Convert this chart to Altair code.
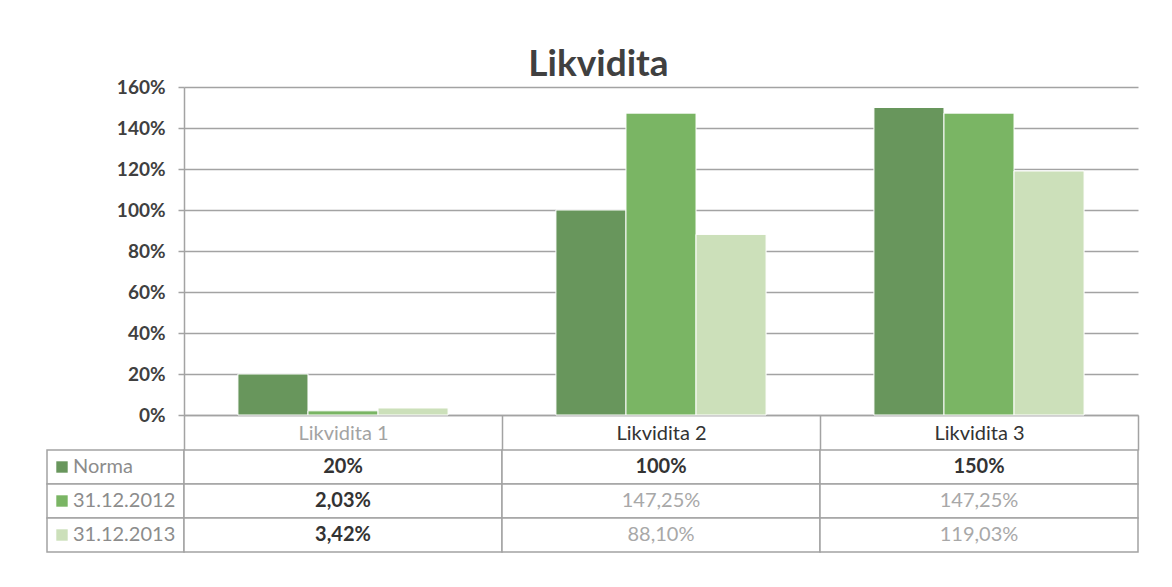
import altair as alt
import pandas as pd

# ---- data ----
categories = ["Likvidita 1", "Likvidita 2", "Likvidita 3"]
series = ["Norma", "31.12.2012", "31.12.2013"]
norma = [20, 100, 150]
v2012 = [2.03, 147.25, 147.25]
v2013 = [3.42, 88.10, 119.03]
y_ticks = [0, 20, 40, 60, 80, 100, 120, 140, 160]


def fmt(s, v):
    if s == "Norma":
        return f"{v:.0f}%"
    return f"{v:.2f}".replace(".", ",") + "%"


rows = []
for s, vals in zip(series, [norma, v2012, v2013]):
    for c, v in zip(categories, vals):
        rows.append({"category": c, "series": s, "value": v, "label": fmt(s, v)})
df = pd.DataFrame(rows)
legend_df = pd.DataFrame({"series": series})

# ---- style ----
FONT = "Lato"
GRID = "#a3a3a3"
colors = ["#68965c", "#7ab564", "#cce0ba"]
W_PLOT = 954
H_PLOT = 328
W_LEG = 137
ROW_H = 34

color_scale = alt.Scale(domain=series, range=colors)

bars = alt.Chart(df).mark_bar(stroke="white", strokeWidth=1).encode(
    x=alt.X(
        "category:N",
        sort=categories,
        scale=alt.Scale(paddingInner=0, paddingOuter=0),
        axis=alt.Axis(
            title=None,
            orient="bottom",
            labelAngle=0,
            tickBand="extent",
            tickSize=35,
            tickColor=GRID,
            tickWidth=1.5,
            domainColor=GRID,
            domainWidth=1.5,
            labelBaseline="middle",
            labelPadding=-17,
            labelFont=FONT,
            labelFontSize=20,
            labelColor={
                "condition": {"test": "datum.value == 'Likvidita 1'", "value": "#a3a3a3"},
                "value": "#333333",
            },
        ),
    ),
    xOffset=alt.XOffset("series:N", sort=series,
                        scale=alt.Scale(paddingInner=0, paddingOuter=0.77)),
    y=alt.Y(
        "value:Q",
        scale=alt.Scale(domain=[0, 160], nice=False),
        axis=alt.Axis(
            title=None,
            values=y_ticks,
            labelExpr="datum.value + '%'",
            labelFont=FONT,
            labelFontSize=19,
            labelFontWeight="bold",
            labelColor="#404040",
            labelPadding=13,
            tickSize=6,
            tickColor=GRID,
            tickWidth=1.5,
            domainColor=GRID,
            domainWidth=1.5,
            gridColor=GRID,
            gridWidth=1.5,
        ),
    ),
    color=alt.Color("series:N", scale=color_scale, legend=None),
).properties(width=W_PLOT, height=H_PLOT)

spacer = alt.Chart(legend_df).mark_point(opacity=0, size=1).encode(
    x=alt.value(60), y=alt.value(160)
).properties(width=W_LEG, height=H_PLOT)

leg_base = alt.Chart(legend_df).encode(
    y=alt.Y("series:N", sort=series, axis=None,
            scale=alt.Scale(paddingInner=0, paddingOuter=0))
)
leg_cells = leg_base.mark_rect(fill="white", stroke=GRID, strokeWidth=1.5)
leg_sym = leg_base.mark_point(shape="square", filled=True, size=130, opacity=1).encode(
    x=alt.value(15),
    color=alt.Color("series:N", scale=color_scale, legend=None),
)
leg_text = leg_base.mark_text(
    align="left", baseline="middle", font=FONT, fontSize=20, color="#8c8c8c"
).encode(x=alt.value(26), text="series:N")
legend = alt.layer(leg_cells, leg_sym, leg_text).properties(width=W_LEG, height=3 * ROW_H)

tbl_base = alt.Chart(df).encode(
    x=alt.X("category:N", sort=categories, axis=None,
            scale=alt.Scale(paddingInner=0, paddingOuter=0)),
    y=alt.Y("series:N", sort=series, axis=None,
            scale=alt.Scale(paddingInner=0, paddingOuter=0)),
)
cells = tbl_base.mark_rect(fill="white", stroke=GRID, strokeWidth=1.5)
bold_test = "datum.series == 'Norma' || datum.category == 'Likvidita 1'"
txt_bold = tbl_base.mark_text(
    font=FONT, fontSize=20, fontWeight="bold", color="#333333"
).encode(text="label:N").transform_filter(bold_test)
txt_reg = tbl_base.mark_text(
    font=FONT, fontSize=20, color="#a8a8a8"
).encode(text="label:N").transform_filter("!(" + bold_test + ")")
table = alt.layer(cells, txt_bold, txt_reg).properties(width=W_PLOT, height=3 * ROW_H)

chart = alt.concat(
    spacer, bars, legend, table,
    columns=2,
    spacing={"row": 35, "column": 0},
    bounds="flush",
).properties(
    title=alt.TitleParams(
        "Likvidita", font=FONT, fontSize=37, fontWeight="bold",
        color="#404040", anchor="middle", dx=6, offset=-6,
    ),
    padding={"left": 37, "top": 37, "right": 10, "bottom": 10},
).configure_view(stroke="transparent")

chart.save("out.html", embed_options={"renderer": "svg", "actions": False})
